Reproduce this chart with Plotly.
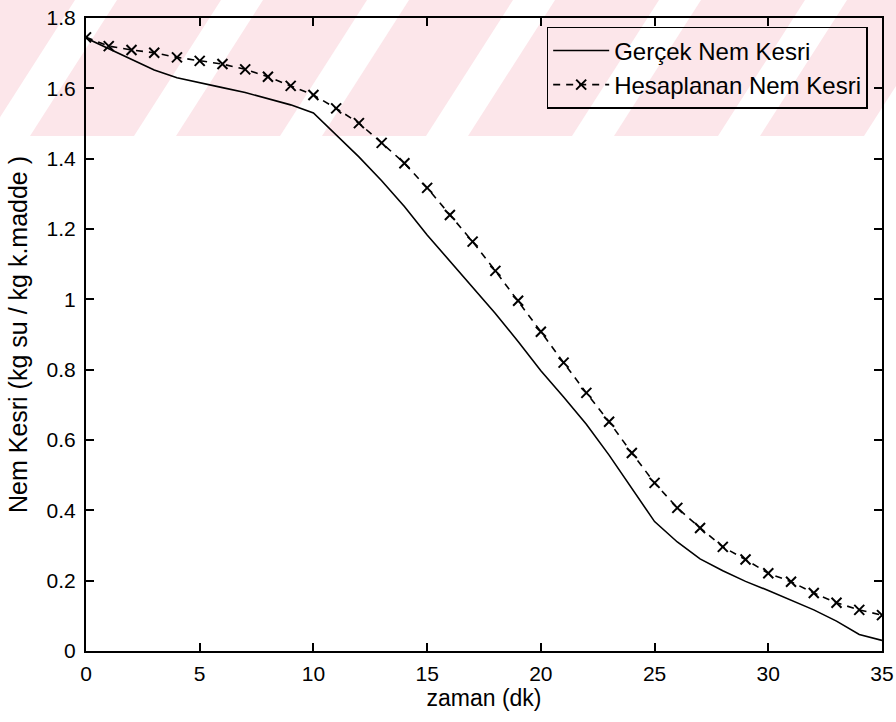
import plotly.graph_objects as go

# ---- data ----
zaman = list(range(0, 36))
gercek = [1.743, 1.712, 1.681, 1.652, 1.630, 1.617, 1.602, 1.588, 1.571, 1.553,
          1.530, 1.468, 1.405, 1.337, 1.264, 1.183, 1.108, 1.035, 0.960, 0.880,
          0.797, 0.722, 0.645, 0.557, 0.462, 0.368, 0.310, 0.262, 0.228, 0.198,
          0.172, 0.145, 0.117, 0.085, 0.047, 0.030]
hesaplanan = [1.745, 1.720, 1.709, 1.701, 1.688, 1.678, 1.669, 1.654, 1.633, 1.607,
              1.581, 1.543, 1.501, 1.445, 1.387, 1.317, 1.240, 1.164, 1.081, 0.996,
              0.908, 0.820, 0.734, 0.652, 0.563, 0.478, 0.407, 0.350, 0.296, 0.260,
              0.221, 0.197, 0.165, 0.137, 0.117, 0.102]
x_ticks = [0, 5, 10, 15, 20, 25, 30, 35]
y_ticks = [0, 0.2, 0.4, 0.6, 0.8, 1.0, 1.2, 1.4, 1.6, 1.8]
y_tick_labels = ["0", "0.2", "0.4", "0.6", "0.8", "1", "1.2", "1.4", "1.6", "1.8"]

W, H = 896, 722
L, R, T, B = 86, 14, 18, 71
PW, PH = W - L - R, H - T - B

def px(x):
    return (x - L) / PW

def py(y):
    return (H - B - y) / PH

FONT = "Liberation Sans, Arial, sans-serif"

fig = go.Figure()
fig.add_trace(go.Scatter(
    x=zaman, y=gercek, mode="lines", name="Gerçek Nem Kesri",
    line=dict(color="black", width=1.6),
))
fig.add_trace(go.Scatter(
    x=zaman, y=hesaplanan, mode="lines+markers", name="Hesaplanan Nem Kesri",
    line=dict(color="black", width=1.6, dash="7px,6px"),
    marker=dict(symbol="x-thin", size=10, line=dict(color="black", width=2)),
))

# watermark band (decorative background)
shapes = [dict(type="rect", xref="paper", yref="paper", layer="below",
               x0=px(0), x1=px(W), y0=py(136), y1=py(0),
               fillcolor="#fce6ea", line=dict(width=0))]
for k in range(-3, 6):
    x0 = 367 + 146 * k
    path = (f"M {px(x0)} {py(0)} L {px(x0 + 42)} {py(0)} "
            f"L {px(x0 - 45)} {py(136)} L {px(x0 - 87)} {py(136)} Z")
    shapes.append(dict(type="path", xref="paper", yref="paper", layer="below",
                       path=path, fillcolor="white", line=dict(width=0)))

axis_common = dict(
    showgrid=False, zeroline=False, showline=True, linecolor="black", linewidth=2,
    mirror="ticks", ticks="inside", ticklen=8, tickwidth=1.5, tickcolor="black",
    tickfont=dict(family=FONT, size=21, color="black"), automargin=False,
)

fig.update_layout(
    width=W, height=H,
    margin=dict(l=L, r=R, t=T, b=B),
    paper_bgcolor="white", plot_bgcolor="rgba(0,0,0,0)",
    shapes=shapes,
    xaxis=dict(range=[0, 35], tickvals=x_ticks, ticktext=[str(v) for v in x_ticks],
               ticklabelstandoff=3,
               title=dict(text="zaman (dk)", font=dict(family=FONT, size=23, color="black"),
                          standoff=2),
               **axis_common),
    yaxis=dict(range=[0, 1.8], tickvals=y_ticks, ticktext=y_tick_labels,
               ticklabelstandoff=4,
               title=dict(text="Nem Kesri (kg su / kg k.madde )",
                          font=dict(family=FONT, size=25, color="black"), standoff=12),
               **axis_common),
    legend=dict(x=0.982, xanchor="right", y=0.986, yanchor="top",
                bgcolor="rgba(0,0,0,0)", bordercolor="black", borderwidth=1.5,
                font=dict(family=FONT, size=24, color="black"),
                itemwidth=56, tracegroupgap=0),
    showlegend=True,
)

fig.write_html("out.html")
